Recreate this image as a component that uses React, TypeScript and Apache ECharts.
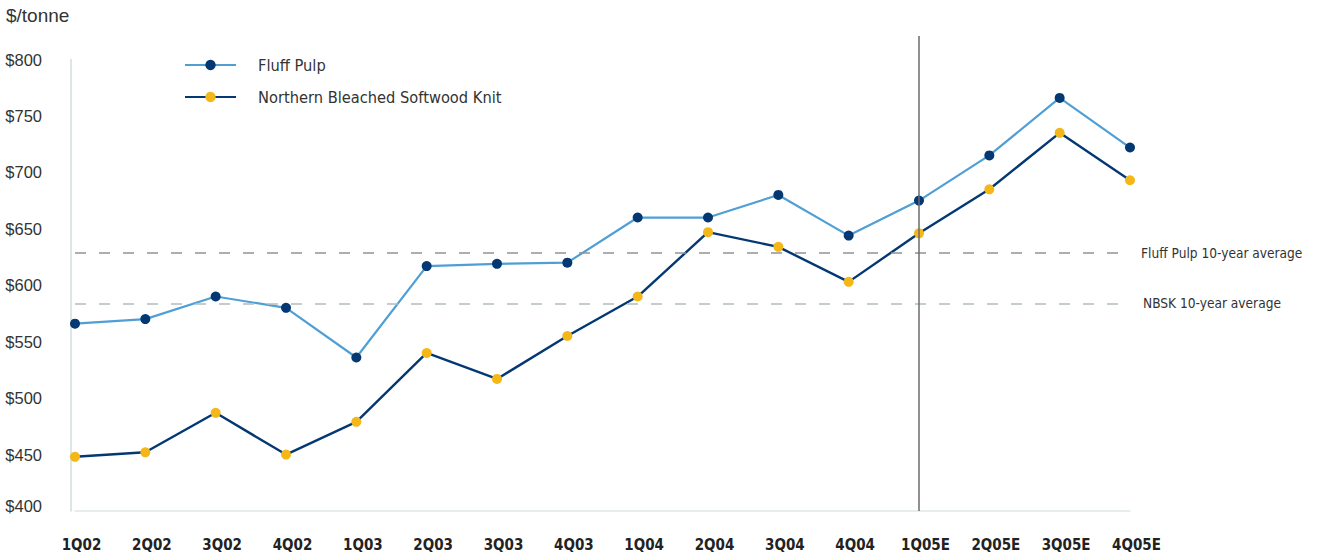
import React, { useEffect, useRef } from "react";
import * as echarts from "echarts";

// Quarterly pulp prices, US$/tonne (E = estimate)
const quarters = [
  "1Q02", "2Q02", "3Q02", "4Q02",
  "1Q03", "2Q03", "3Q03", "4Q03",
  "1Q04", "2Q04", "3Q04", "4Q04",
  "1Q05E", "2Q05E", "3Q05E", "4Q05E",
];

const fluffPulp = [566, 570, 590, 580, 536, 617, 619, 620, 660, 660, 680, 644, 675, 715, 766, 722];
const nbsk = [448, 452, 487, 450, 479, 540, 517, 555, 590, 647, 634, 603, 646, 685, 735, 693];

const fluffAverage = 629;
const nbskAverage = 584;

// first quarter of the forecast period
const forecastStart = "1Q05E";

const yMin = 400;
const yMax = 800;
const yStep = 50;

const LIGHT_BLUE = "#4f9fd5";
const NAVY = "#043873";
const GOLD = "#f3b718";
const TEXT = "#333333";
const NARROW = "'DejaVu Sans Condensed', 'DejaVu Sans', sans-serif";
const SANS = "'Liberation Sans', Arial, sans-serif";

export default function App() {
  const ref = useRef<HTMLDivElement>(null);

  useEffect(() => {
    if (!ref.current) return;
    const chart = echarts.init(ref.current, undefined, { renderer: "svg" });

    chart.setOption({
      animation: false,
      backgroundColor: "#ffffff",
      grid: [
        // main plot
        { left: 75, right: 187, top: 59.5, bottom: 44, containLabel: false },
        // taller overlay used only for the forecast divider
        { left: 75, right: 187, top: 36, bottom: 44, containLabel: false },
      ],
      title: {
        text: "$/tonne",
        left: 1,
        top: 1,
        textStyle: { fontFamily: SANS, fontSize: 19, fontWeight: "normal", color: TEXT },
      },
      legend: {
        orient: "vertical",
        left: 179,
        top: 52,
        itemWidth: 51,
        itemHeight: 13,
        itemGap: 16,
        textStyle: { fontFamily: NARROW, fontSize: 16.3, color: TEXT, padding: [0, 0, 0, 17] },
        data: ["Fluff Pulp", "Northern Bleached Softwood Knit"],
      },
      xAxis: [
        {
          type: "category",
          gridIndex: 0,
          data: quarters,
          boundaryGap: false,
          axisLine: { show: true, lineStyle: { color: "#dfe6e6", width: 1.5 } },
          axisTick: { show: false },
          splitLine: { show: false },
          axisLabel: {
            margin: 26,
            interval: 0,
            fontFamily: NARROW,
            fontSize: 15,
            fontWeight: "bold",
            color: "#222222",
            padding: [0, 0, 0, 13],
          },
        },
        {
          type: "category",
          gridIndex: 1,
          data: quarters,
          boundaryGap: false,
          show: false,
        },
      ],
      yAxis: [
        {
          type: "value",
          gridIndex: 0,
          min: yMin,
          max: yMax,
          interval: yStep,
          offset: 4,
          axisLine: { show: true, lineStyle: { color: "#d3dcdc", width: 1.5 } },
          axisTick: { show: false },
          splitLine: { show: false },
          axisLabel: {
            margin: 29,
            fontFamily: SANS,
            fontSize: 16.5,
            color: TEXT,
            formatter: (v: number) => (v === yMin ? "{low|$" + v + "}" : "$" + v),
            rich: {
              low: { fontFamily: SANS, fontSize: 16.5, color: TEXT, padding: [0, 0, 10, 0] },
            },
          },
        },
        { type: "value", gridIndex: 1, show: false, min: 0, max: 1 },
      ],
      series: [
        {
          name: "averages",
          type: "line",
          data: [],
          silent: true,
          markLine: {
            silent: true,
            symbol: "none",
            animation: false,
            data: [
              {
                yAxis: fluffAverage,
                lineStyle: { color: "#8e9494", type: [11, 13], width: 1.5 },
                label: {
                  show: true,
                  position: "end",
                  distance: 11,
                  formatter: "Fluff Pulp 10-year average",
                  fontFamily: NARROW,
                  fontSize: 13.6,
                  color: TEXT,
                  padding: [0, 0, 8, 0],
                },
              },
              {
                yAxis: nbskAverage,
                lineStyle: { color: "#b3bcbc", type: [11, 13], width: 1.5 },
                label: {
                  show: true,
                  position: "end",
                  distance: 13,
                  formatter: "NBSK 10-year average",
                  fontFamily: NARROW,
                  fontSize: 13.6,
                  color: TEXT,
                },
              },
            ],
          },
        },
        {
          name: "forecast",
          type: "line",
          xAxisIndex: 1,
          yAxisIndex: 1,
          data: [],
          silent: true,
          markLine: {
            silent: true,
            symbol: "none",
            animation: false,
            label: { show: false },
            lineStyle: { color: "#6b6b6b", type: "solid", width: 1.5 },
            data: [{ xAxis: forecastStart }],
          },
        },
        {
          name: "Fluff Pulp",
          type: "line",
          data: fluffPulp,
          symbol: "circle",
          symbolSize: 10,
          clip: false,
          lineStyle: { color: LIGHT_BLUE, width: 2.2 },
          itemStyle: { color: NAVY },
          z: 3,
        },
        {
          name: "Northern Bleached Softwood Knit",
          type: "line",
          data: nbsk,
          symbol: "circle",
          symbolSize: 10,
          clip: false,
          lineStyle: { color: NAVY, width: 2.4 },
          itemStyle: { color: GOLD },
          z: 3,
        },
      ],
    });

    return () => chart.dispose();
  }, []);

  return <div ref={ref} style={{ width: 1317, height: 555, position: "absolute", left: 0, top: 0 }} />;
}
